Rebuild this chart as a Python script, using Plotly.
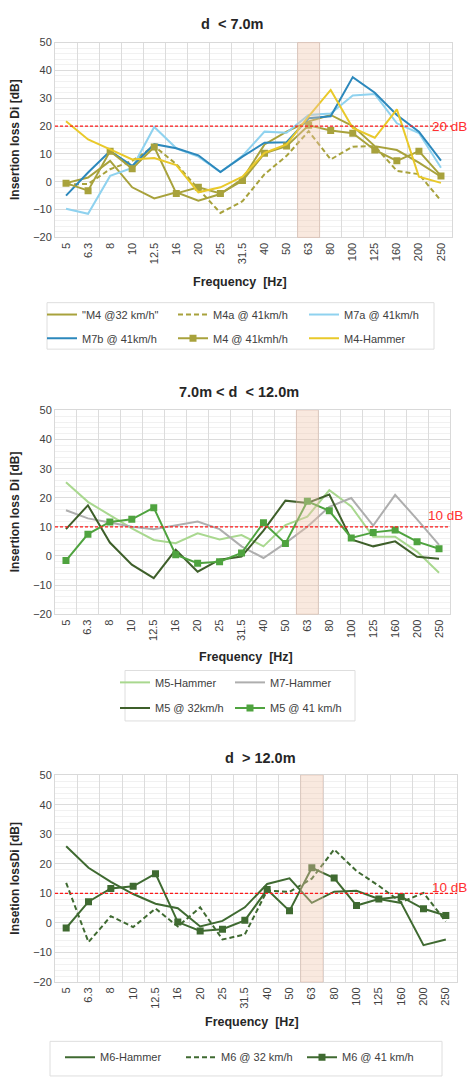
import plotly.graph_objects as go

freq = ["5", "6.3", "8", "10", "12.5", "16", "20", "25", "31.5", "40",
        "50", "63", "80", "100", "125", "160", "200", "250"]

# ---- Chart 1 : d < 7.0m ----
m4_32 = [-0.5, 1.5, 7.5, -2, -6, -3.8, -6.8, -4.4, 1, 13.4, 18, 21.7, 24, 20, 12.8, 11.4, 6.9, 1.8]
m4a_41 = [-1, -0.8, 4.5, 7.5, 12.8, 6.3, -2.6, -11.2, -7, 2.7, 9.3, 18.2, 8, 12.6, 12.8, 3.9, 2.7, -6.8]
m7a_41 = [-9.7, -11.5, 2.1, 5, 19.7, 12, 9, 3.5, 9.3, 18, 17.6, 24, 24.5, 31, 31.5, 21, 17.5, 5]
m7b_41 = [-5, 3.3, 11, 5.7, 13.5, 12, 9.5, 3.5, 9, 14, 14.2, 22.8, 23.5, 37.6, 32, 24, 18, 7.6]
m4_41 = [-0.5, -3.2, 11, 4.7, 12.5, -4.2, -2, -4.2, 0.4, 10.2, 12.8, 20.3, 18.4, 17.4, 11.4, 7.5, 11, 2.1]
m4_hammer = [21.7, 15.2, 11.6, 8, 8.5, 6, -3.8, -2, 1.8, 10.4, 13.4, 23.5, 33, 19.3, 15.8, 26, 1.8, -0.4]

# ---- Chart 2 : 7.0m < d < 12.0m ----
m5_hammer = [25.3, 18.6, 14, 9.5, 5.5, 4.4, 7.8, 5.7, 7.2, 3.3, 10.6, 13.5, 22.6, 17, 6.6, 6.6, 1.5, -5.8]
m7_hammer = [15.7, 12.9, 11.5, 10, 9.2, 10.6, 11.8, 9.2, 3.3, -0.7, 4.4, 10, 16.9, 19.9, 10.4, 21, 12.6, 3.8]
m5_32 = [9.2, 17.4, 4.6, -3, -7.6, 2.1, -5.4, -1.3, -0.2, 8.7, 19, 18.2, 21.1, 5.7, 3.3, 5, -0.3, -1]
m5_41 = [-1.6, 7.5, 11.7, 12.6, 16.6, 0.4, -2.5, -2, 1, 11.4, 4.3, 18.8, 15.5, 6.2, 8.1, 8.9, 4.9, 2.5]

# ---- Chart 3 : d > 12.0m ----
m6_hammer = [26, 18.7, 13.9, 9.8, 6.5, 5, -1.2, 0.7, 5.3, 13.2, 15.1, 6.8, 10.6, 10.9, 8.1, 6.8, -7.5, -5.6]
m6_32 = [13.6, -6.5, 2.3, -1.4, 4.9, -1.2, 5.3, -5.6, -3.9, 11, 10.5, 15, 24.9, 17.6, 12.6, 7, 10.2, 0.5]
m6_41 = [-1.7, 7.2, 11.7, 12.4, 16.7, 0.3, -2.7, -2.1, 0.9, 11.3, 4.1, 18.7, 15.2, 5.9, 8.1, 8.9, 4.8, 2.5]

titles = ["d  < 7.0m", "7.0m < d  < 12.0m", "d  > 12.0m"]
ytitles = ["Insertion loss Di [dB]", "Insertion loss Di [dB]", "Insetion lossDi [dB]"]
thresholds = [20, 10, 10]
threshold_labels = ["20 dB", "10 dB", "10 dB"]
band_category = "63"

W, H = 469, 1078
FONT = "Liberation Sans, Arial, sans-serif"

def px_x(p):
    return p / W

def px_y(p):
    return 1 - p / H

# plot areas in pixels: (left, right, top, bottom)
areas = [(55, 452, 37, 234), (55, 450, 409, 615), (55, 457, 778, 987)]

fig = go.Figure()

OLIVE = "#A8A23C"
YELLOW = "#E9C92A"
LBLUE = "#8FD2EF"
BLUE = "#2C88BC"
LGREEN = "#A9D88F"
GRAY = "#AEAEAE"
DGREEN = "#3E5F2A"
GREEN = "#4FA33F"
FGREEN = "#3F6A31"

def add(name, y, color, k, legend, rank, dash="solid", marker=False, width=2):
    fig.add_trace(go.Scatter(
        x=freq, y=y, name=name,
        mode="lines+markers" if marker else "lines",
        line=dict(color=color, width=width, dash=dash),
        marker=dict(symbol="square", size=7, color=color),
        xaxis="x" if k == 1 else f"x{k}", yaxis="y" if k == 1 else f"y{k}",
        legend=legend, legendrank=rank,
        hoverinfo="x+y+name",
    ))

# chart 1
add("\"M4 @32 km/h\"", m4_32, OLIVE, 1, "legend", 1)
add("M4a @ 41km/h", m4a_41, OLIVE, 1, "legend", 2, dash="5px,3px")
add("M7a @ 41km/h", m7a_41, LBLUE, 1, "legend", 3)
add("M7b @ 41km/h", m7b_41, BLUE, 1, "legend2", 1)
add("M4 @ 41kmh/h", m4_41, OLIVE, 1, "legend2", 2, marker=True)
add("M4-Hammer", m4_hammer, YELLOW, 1, "legend2", 3)
# chart 2
add("M5-Hammer", m5_hammer, LGREEN, 2, "legend3", 1)
add("M7-Hammer", m7_hammer, GRAY, 2, "legend3", 2)
add("M5 @ 32km/h", m5_32, DGREEN, 2, "legend4", 1)
add("M5 @ 41 km/h", m5_41, GREEN, 2, "legend4", 2, marker=True)
# chart 3
add("M6-Hammer", m6_hammer, FGREEN, 3, "legend5", 1)
add("M6 @ 32 km/h", m6_32, FGREEN, 3, "legend5", 2, dash="5px,3px")
add("M6 @ 41 km/h", m6_41, FGREEN, 3, "legend5", 3, marker=True)

layout = dict(
    width=W, height=H,
    margin=dict(l=0, r=0, t=0, b=0),
    paper_bgcolor="white", plot_bgcolor="white",
    font=dict(family=FONT, size=11, color="#404040"),
    showlegend=True,
)

annotations = []
shapes = []
band_idx = freq.index(band_category)

title_pos = [(232, 18), (239, 390), (260, 760)]
xtitle_pos = [(240, 279), (246, 658), (252, 1027)]
dbpos = [(449, 122), (445, 515), (449, 891)]

for i, (l, r, t, b) in enumerate(areas):
    k = i + 1
    xa = "xaxis" if k == 1 else f"xaxis{k}"
    ya = "yaxis" if k == 1 else f"yaxis{k}"
    xr = "x" if k == 1 else f"x{k}"
    yr = "y" if k == 1 else f"y{k}"
    layout[xa] = dict(
        domain=[px_x(l), px_x(r)], anchor=yr, type="category",
        categoryorder="array", categoryarray=freq,
        range=[-0.5, len(freq) - 0.5], tickson="boundaries",
        tickangle=-90, showgrid=True, gridcolor="#DCDCDC", gridwidth=1,
        showline=True, mirror=True, linecolor="#D9D9D9", linewidth=1,
        ticks="", tickfont=dict(size=11, color="#404040"),
        fixedrange=True,
    )
    layout[ya] = dict(
        domain=[px_y(b), px_y(t)], anchor=xr,
        range=[-20, 50], dtick=10, tick0=0,
        showgrid=True, gridcolor="#DCDCDC", gridwidth=1,
        minor=dict(dtick=2, showgrid=True, gridcolor="#F1F1F1", gridwidth=1),
        zeroline=False, showline=True, mirror=True, linecolor="#D9D9D9",
        ticks="", tickfont=dict(size=11, color="#404040"),
        fixedrange=True,
    )
    # shaded band at 63 Hz
    shapes.append(dict(
        type="rect", xref=xr, yref=f"{yr} domain",
        x0=band_idx - 0.5, x1=band_idx + 0.5, y0=0, y1=1,
        fillcolor="rgba(238,196,172,0.38)",
        line=dict(color="rgba(214,170,150,0.35)", width=1), layer="above",
    ))
    # threshold line
    shapes.append(dict(
        type="line", xref=f"{xr} domain", yref=yr,
        x0=0, x1=1, y0=thresholds[i], y1=thresholds[i],
        line=dict(color="#FF1A1A", width=1.2, dash="3px,2px"), layer="above",
    ))
    annotations.append(dict(
        text=threshold_labels[i], x=px_x(dbpos[i][0]), y=px_y(dbpos[i][1]),
        xref="paper", yref="paper", xanchor="center", yanchor="middle",
        showarrow=False, font=dict(size=13.5, color="#FF3030", family=FONT),
    ))
    annotations.append(dict(
        text=f"<b>{titles[i]}</b>", x=px_x(title_pos[i][0]), y=px_y(title_pos[i][1]),
        xref="paper", yref="paper", xanchor="center", yanchor="middle",
        showarrow=False, font=dict(size=14.5, color="#262626", family=FONT),
    ))
    annotations.append(dict(
        text="<b>Frequency  [Hz]</b>", x=px_x(xtitle_pos[i][0]), y=px_y(xtitle_pos[i][1]),
        xref="paper", yref="paper", xanchor="center", yanchor="middle",
        showarrow=False, font=dict(size=12.5, color="#262626", family=FONT),
    ))
    annotations.append(dict(
        text=f"<b>{ytitles[i]}</b>", x=px_x(15), y=px_y((t + b) / 2),
        xref="paper", yref="paper", xanchor="center", yanchor="middle",
        textangle=-90, showarrow=False, font=dict(size=12, color="#262626", family=FONT),
    ))

# legend frames (left, right, top, bottom) in pixels
legend_boxes = [(47, 434, 300, 347), (125, 355, 672, 723), (50, 442, 1047, 1082)]
for (l, r, t, b) in legend_boxes:
    shapes.append(dict(
        type="rect", xref="paper", yref="paper",
        x0=px_x(l), x1=px_x(r), y0=px_y(b), y1=px_y(t),
        line=dict(color="#DEDEDE", width=1), fillcolor="white", layer="below",
    ))

leg_common = dict(
    orientation="h", traceorder="normal", xanchor="left", yanchor="middle",
    bgcolor="rgba(0,0,0,0)", borderwidth=0,
    font=dict(size=11, color="#404040", family=FONT),
    entrywidthmode="pixels",
)
# (left px, centre y px, entrywidth)
leg_rows = [(42, 312, 86), (42, 336, 86), (115, 684, 70), (115, 710, 70), (60, 1063, 76)]
for j, (lx, cy, ew) in enumerate(leg_rows):
    key = "legend" if j == 0 else f"legend{j + 1}"
    layout[key] = dict(leg_common, x=px_x(lx), y=px_y(cy), entrywidth=ew)

layout["annotations"] = annotations
layout["shapes"] = shapes
fig.update_layout(**layout)

fig.write_html(
    "out.html",
    config={"displayModeBar": False},
    post_script="document.documentElement.style.margin='0';"
                "document.body.style.margin='0';"
                "document.body.style.padding='0';"
                "document.body.style.overflow='hidden';",
)
